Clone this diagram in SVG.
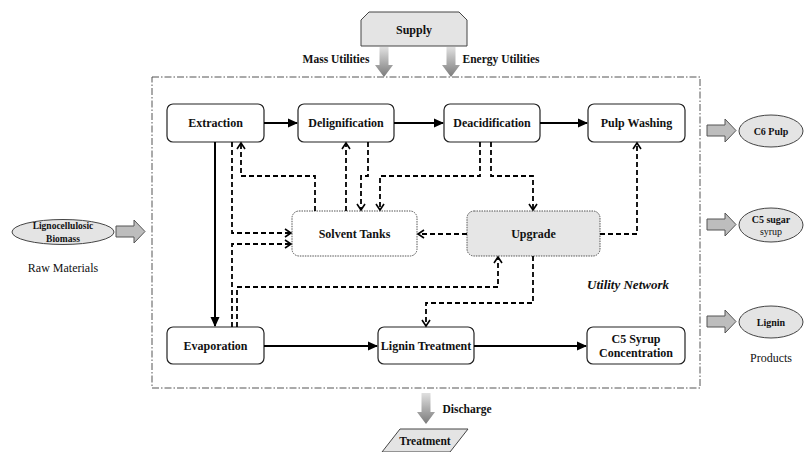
<svg xmlns="http://www.w3.org/2000/svg" width="804" height="452" viewBox="0 0 804 452" font-family="'Liberation Serif', 'Times New Roman', 'DejaVu Serif', serif">
<defs>
<style>
text{font-family:'Liberation Serif','Times New Roman','DejaVu Serif',serif;font-weight:bold;fill:#111;text-anchor:middle;dominant-baseline:central}
.box{fill:#fff;stroke:#222;stroke-width:1.2}
.dotbox{stroke:#555;stroke-width:1;stroke-dasharray:1.5,1}
.lbl{font-size:12px}
.sm{font-size:10px}
.solid{fill:none;stroke:#000;stroke-width:2;marker-end:url(#mSolid)}
.dash{fill:none;stroke:#000;stroke-width:1.8;stroke-dasharray:5,3;marker-end:url(#mOpen)}
.blk{fill:#bdbdbd;stroke:#555;stroke-width:1}
.ell{fill:#e4e4e4;stroke:#444;stroke-width:1}
</style>
<marker id="mSolid" markerWidth="10" markerHeight="10" refX="9" refY="5" orient="auto" markerUnits="userSpaceOnUse"><path d="M0,0.5 L10,5 L0,9.5 z" fill="#000"/></marker>
<marker id="mOpen" markerWidth="10" markerHeight="10" refX="8" refY="5" orient="auto" markerUnits="userSpaceOnUse"><path d="M2,1 L8,5 L2,9" fill="none" stroke="#000" stroke-width="1.6"/></marker>
<linearGradient id="gDown" x1="0" y1="0" x2="0" y2="1"><stop offset="0" stop-color="#e0e0e0"/><stop offset="1" stop-color="#7a7a7a"/></linearGradient>
</defs>

<rect x="152" y="77" width="548" height="311" fill="none" stroke="#555" stroke-width="1" stroke-dasharray="7,2,1.5,2"/>

<g id="supply">
<path d="M361,46 V20 L369,12 H459 L467,20 V46 Z" fill="#e4e4e4" stroke="#444" stroke-width="1"/>
<text x="414" y="30" class="lbl">Supply</text>
<path d="M379.5,47 H388.5 V65 H393 L384,77 L375,65 H379.5 Z" fill="url(#gDown)"/>
<path d="M446.5,47 H455.5 V65 H460 L451,77 L442,65 H446.5 Z" fill="url(#gDown)"/>
<text x="336" y="59" style="font-size:11.5px">Mass Utilities</text>
<text x="501" y="59" style="font-size:11.5px">Energy Utilities</text>
</g>

<g id="biomass">
<ellipse cx="63" cy="232" rx="51" ry="12.5" class="ell"/>
<text x="63" y="226" style="font-size:9.5px">Lignocellulosic</text>
<text x="63" y="238.5" style="font-size:9.5px">Biomass</text>
<path d="M116,226 H134 V220 L145,231.5 L134,243 V237 H116 Z" class="blk"/>
<text x="63" y="268" style="font-size:12px;font-weight:normal">Raw Materials</text>
</g>

<g id="extraction"><rect x="167" y="104" width="97" height="38" rx="6" class="box"/><text x="215.5" y="123" class="lbl">Extraction</text></g>
<g id="delignification"><rect x="298" y="104" width="96" height="38" rx="6" class="box"/><text x="346" y="123" class="lbl">Delignification</text></g>
<g id="deacidification"><rect x="444" y="104" width="96" height="38" rx="6" class="box"/><text x="492" y="123" class="lbl">Deacidification</text></g>
<g id="pulpwashing"><rect x="588" y="104" width="97" height="38" rx="6" class="box"/><text x="636.5" y="123" class="lbl">Pulp Washing</text></g>
<g id="solvent"><rect x="292" y="211" width="125" height="45" rx="7" fill="#fff" class="dotbox"/><text x="354.5" y="234" class="lbl">Solvent Tanks</text></g>
<g id="upgrade"><rect x="467" y="211" width="133" height="45" rx="7" fill="#e6e6e6" class="dotbox"/><text x="533.5" y="234" class="lbl">Upgrade</text></g>
<g id="evaporation"><rect x="167" y="327" width="97" height="37" rx="6" class="box"/><text x="215.5" y="345.5" class="lbl">Evaporation</text></g>
<g id="lignintreatment"><rect x="378" y="327" width="96" height="37" rx="6" class="box"/><text x="426" y="345.5" class="lbl">Lignin Treatment</text></g>
<g id="c5syrup"><rect x="587" y="327" width="98" height="37" rx="6" class="box"/><text x="636" y="338.5" class="lbl">C5 Syrup</text><text x="636" y="353" class="lbl">Concentration</text></g>

<text x="628" y="284" style="font-size:13px;font-style:italic">Utility Network</text>

<g id="connectors">
<path d="M264,123 H297" class="solid"/>
<path d="M394,123 H443" class="solid"/>
<path d="M540,123 H587" class="solid"/>
<path d="M215,142 V326" class="solid"/>
<path d="M264,346 H377" class="solid"/>
<path d="M474,346 H586" class="solid"/>
<path d="M315,211 V176 H241 V143" class="dash"/>
<path d="M232,142 V233 H291" class="dash"/>
<path d="M232,327 V244 H291" class="dash"/>
<path d="M237,327 V287 H498 V257" class="dash"/>
<path d="M346,211 V143" class="dash"/>
<path d="M368,142 V176 H361 V210" class="dash"/>
<path d="M480,142 V176 H380 V210" class="dash"/>
<path d="M491,142 V176 H533 V210" class="dash"/>
<path d="M467,234 H418" class="dash"/>
<path d="M600,234 H637 V143" class="dash"/>
<path d="M533,256 V303 H426 V326" class="dash"/>
</g>

<g id="products">
<path d="M707,125 H725 V119 L736,130.5 L725,142 V136 H707 Z" class="blk"/>
<ellipse cx="771" cy="131" rx="32" ry="16" class="ell"/>
<text x="771" y="131" class="sm">C6 Pulp</text>
<path d="M707,219 H725 V213 L736,224.5 L725,236 V230 H707 Z" class="blk"/>
<ellipse cx="771" cy="225" rx="32" ry="17" class="ell"/>
<text x="771" y="219" class="sm">C5 sugar</text>
<text x="771" y="231" class="sm" style="font-weight:normal">syrup</text>
<path d="M707,316 H725 V310 L736,321.5 L725,333 V327 H707 Z" class="blk"/>
<ellipse cx="771" cy="322" rx="32" ry="16" class="ell"/>
<text x="771" y="322" class="sm">Lignin</text>
<text x="771" y="358" style="font-size:12px;font-weight:normal">Products</text>
</g>

<g id="treatment">
<path d="M421.5,393 H430.5 V412 H435 L426,424 L417,412 H421.5 Z" fill="url(#gDown)"/>
<text x="467" y="409" style="font-size:11.5px">Discharge</text>
<path d="M382,452 L400,429 H468 L450,452 Z" fill="#e4e4e4" stroke="#444" stroke-width="1"/>
<text x="425" y="441" style="font-size:11.5px">Treatment</text>
</g>
</svg>
